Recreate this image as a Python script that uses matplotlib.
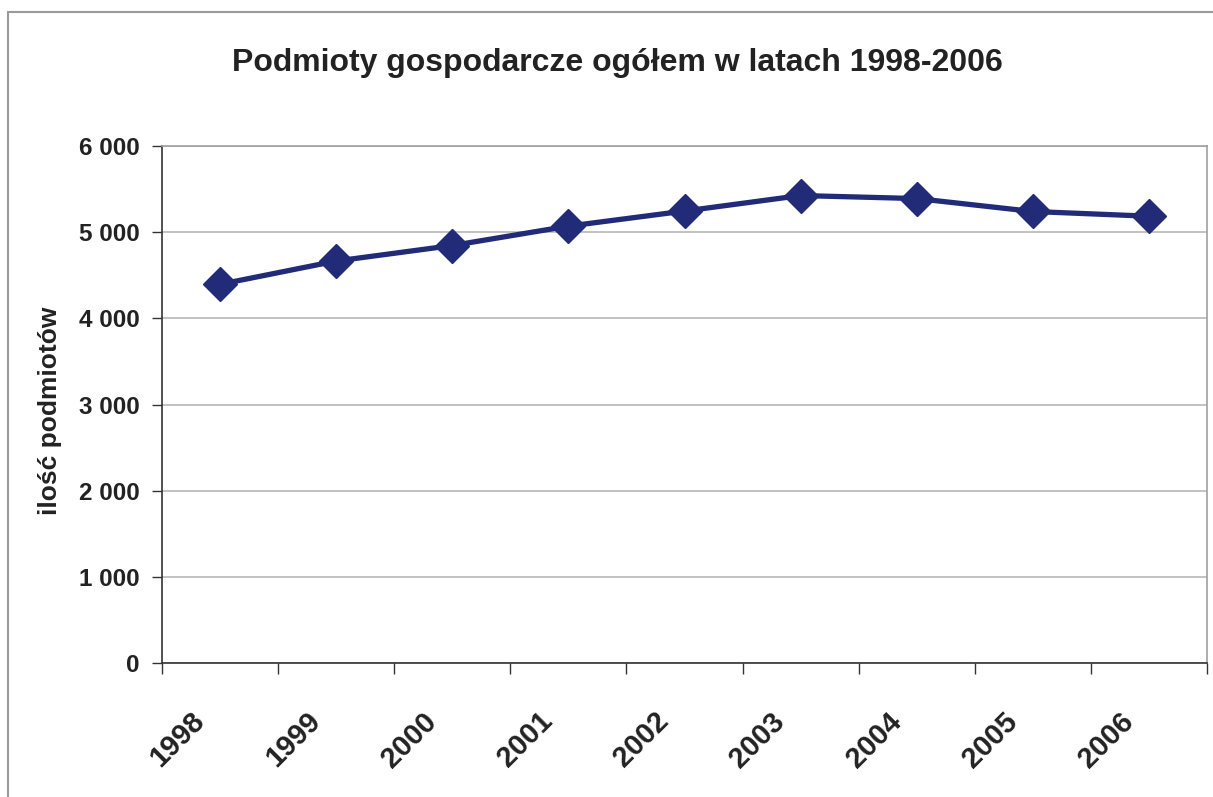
import matplotlib
matplotlib.use("Agg")
import matplotlib.pyplot as plt
from matplotlib.patches import Rectangle
from matplotlib.ticker import FuncFormatter, FixedLocator
from matplotlib.transforms import ScaledTranslation
import numpy as np

years = ["1998", "1999", "2000", "2001", "2002", "2003", "2004", "2005", "2006"]
values = [4395, 4665, 4845, 5070, 5245, 5425, 5390, 5240, 5185]

title = "Podmioty gospodarcze ogółem w latach 1998-2006"
ylabel = "ilość podmiotów"
yticks = [0, 1000, 2000, 3000, 4000, 5000, 6000]

plt.rcParams['font.family'] = ['Liberation Sans', 'DejaVu Sans']
plt.rcParams['font.weight'] = 'bold'

W, H = 1213, 797
fig = plt.figure(figsize=(W/100, H/100), dpi=100)
fig.patch.set_facecolor('white')

# outer chart border
fig.add_artist(Rectangle((8/W, -0.05), 1.2, (H-12)/H + 0.05, transform=fig.transFigure,
                         fill=False, edgecolor='#9a9a9a', linewidth=1.5))

ax = fig.add_axes([162/W, (H-663)/H, (1207-162)/W, (663-146)/H])
x = np.arange(len(years))
ax.plot(x, values, color='#212b78', linewidth=3.8, marker='D', markersize=17,
        markerfacecolor='#212b78', markeredgecolor='#212b78', zorder=3)

ax.set_xlim(-0.5, len(years) - 0.5)
ax.set_ylim(0, 6000)
ax.set_yticks(yticks)
ax.yaxis.set_major_formatter(FuncFormatter(lambda v, p: f"{int(v):,}".replace(",", " ")))
ax.grid(axis='y', color='#b8b8b8', linewidth=1.2)
ax.set_axisbelow(True)

ax.set_xticks(x)
ax.set_xticklabels(years, rotation=45, ha='right', va='center', rotation_mode='anchor',
                   fontsize=21, fontweight='bold', color='#222222')
ax.tick_params(axis='x', which='major', length=0, pad=0)
off = ScaledTranslation(-0.20, -0.54, fig.dpi_scale_trans)
for lab in ax.get_xticklabels():
    lab.set_transform(lab.get_transform() + off)
ax.xaxis.set_minor_locator(FixedLocator(np.arange(-0.5, len(years), 1.0)))
ax.tick_params(axis='x', which='minor', length=8, width=1, color='#333333', direction='out')
ax.tick_params(axis='y', length=7, width=1, color='#333333', direction='out',
               labelsize=17.5, pad=9, labelcolor='#222222')
for lab in ax.get_yticklabels():
    lab.set_fontweight('bold')

for s in ['left', 'bottom']:
    ax.spines[s].set_color('#333333')
    ax.spines[s].set_linewidth(1.2)
for s in ['top', 'right']:
    ax.spines[s].set_color('#a0a0a0')
    ax.spines[s].set_linewidth(1.2)

fig.text(50/W, 1 - 411/H, ylabel, rotation=90, ha='center', va='center', fontsize=19,
         fontweight='bold', color='#222222')
fig.text(617/W, 1 - 63/H, title, ha='center', va='center', fontsize=23,
         fontweight='bold', color='#222222')

fig.savefig("out.png", dpi=100, facecolor='white')
